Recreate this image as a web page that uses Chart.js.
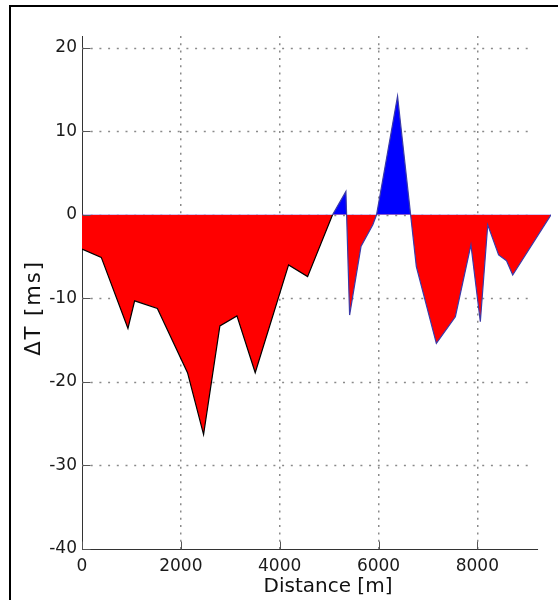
<!DOCTYPE html>
<html lang="en">
<head>
    <meta charset="UTF-8">
    <title>Delta T vs Distance</title>
    <style>
        html, body { margin: 0; padding: 0; background: #fff; overflow: hidden; }
        .wrap { position: relative; width: 558px; height: 600px; }
        .frame { position: absolute; left: 9px; top: 5px; right: -10px; bottom: -10px;
                 border-left: 2px solid #000; border-top: 2px solid #000; pointer-events: none; }
        canvas { display: block; }
    </style>
</head>
<body>
    <div class="wrap">
        <canvas id="dtChart" width="558" height="600"></canvas>
        <div class="frame"></div>
    </div>
    <script src="https://cdn.jsdelivr.net/npm/chart.js"></script>
    <script>
        // profile
        const distance = [0, 390, 930, 1065, 1525, 2135, 2460, 2790, 3135, 3505, 4180, 4565, 5070, 5340,
                          5415, 5645, 5885, 5960, 6385, 6765, 7170, 7555, 7870, 8060, 8210, 8430, 8590, 8715, 9490];
        const deltaT = [-4.1, -5.1, -13.6, -10.3, -11.2, -18.9, -26.3, -13.3, -12.1, -18.9, -6.0, -7.4, 0.0, 2.8,
                        -12.0, -3.8, -1.2, 0.0, 14.2, -6.2, -15.4, -12.2, -3.6, -12.8, -1.2, -4.8, -5.5, -7.2, 0.0];
        const xTicks = [0, 2000, 4000, 6000, 8000];
        const yTicks = [-40, -30, -20, -10, 0, 10, 20];

        const xMax = 9490, yMin = -40, yMax = 21.4;
        const gridEnd = 9133, axisEnd = 9228;

        Chart.defaults.font.family = "'DejaVu Sans', sans-serif";

        const matlabAxes = {
            id: 'matlabAxes',
            beforeDatasetsDraw(chart) {
                const { ctx, scales: { x, y } } = chart;
                ctx.save();
                ctx.strokeStyle = '#8a8a8a';
                ctx.lineWidth = 1.5;
                ctx.setLineDash([2, 6.7]);
                const x0 = x.getPixelForValue(0), x1 = x.getPixelForValue(gridEnd);
                yTicks.forEach(v => {
                    if (v === yMin) return;
                    const py = Math.round(y.getPixelForValue(v)) + 0.5;
                    ctx.beginPath();
                    ctx.moveTo(x0, py);
                    ctx.lineTo(x1, py);
                    ctx.stroke();
                });
                ctx.restore();
            },
            afterDatasetsDraw(chart) {
                const { ctx, scales: { x, y } } = chart;
                const bottom = Math.round(y.getPixelForValue(yMin)) + 0.5;
                const left = Math.round(x.getPixelForValue(0)) + 0.5;
                ctx.save();
                ctx.strokeStyle = '#333';
                ctx.lineWidth = 1;
                // x axis line
                ctx.beginPath();
                ctx.moveTo(left, bottom);
                ctx.lineTo(x.getPixelForValue(axisEnd), bottom);
                ctx.stroke();
                // inward ticks
                ctx.strokeStyle = '#555';
                yTicks.forEach(v => {
                    const py = Math.round(y.getPixelForValue(v)) + 0.5;
                    ctx.beginPath(); ctx.moveTo(left, py); ctx.lineTo(left + 8, py); ctx.stroke();
                });
                xTicks.forEach(v => {
                    const px = Math.round(x.getPixelForValue(v)) + 0.5;
                    ctx.beginPath(); ctx.moveTo(px, bottom); ctx.lineTo(px, bottom - 8); ctx.stroke();
                });
                // axis titles
                ctx.fillStyle = '#111';
                ctx.font = "20px 'DejaVu Sans'";
                ctx.textAlign = 'center';
                ctx.textBaseline = 'middle';
                ctx.fillText('Distance [m]', 328, 587);
                ctx.font = "21px 'DejaVu Sans'";
                ctx.letterSpacing = '2px';
                ctx.translate(35, 308);
                ctx.rotate(-Math.PI / 2);
                ctx.fillText('\u0394T [ms]', 0, 0);
                ctx.restore();
            }
        };

        const ctx = document.getElementById('dtChart').getContext('2d');
        new Chart(ctx, {
            type: 'line',
            data: {
                datasets: [{
                    data: distance.map((d, i) => ({ x: d, y: deltaT[i] })),
                    fill: { target: 'origin', above: '#0000ff', below: '#ff0000' },
                    borderWidth: 1.2,
                    borderColor: '#3a3aa8',
                    segment: {
                        borderColor: c => c.p0.parsed.x < 5070 ? '#000' : '#3a3aa8'
                    },
                    tension: 0,
                    pointRadius: 0
                }]
            },
            options: {
                responsive: false,
                animation: false,
                events: [],
                layout: { padding: { top: 36, right: 7, left: 0, bottom: 0 } },
                plugins: { legend: { display: false }, tooltip: { enabled: false } },
                scales: {
                    x: {
                        type: 'linear',
                        min: 0,
                        max: xMax,
                        afterFit(s) { s.height = 51; },
                        afterBuildTicks(s) { s.ticks = xTicks.map(v => ({ value: v })); },
                        ticks: { color: '#1a1a1a', font: { size: 17 }, padding: 7, maxRotation: 0,
                                 callback: v => String(v) },
                        grid: {
                            drawTicks: false,
                            color: c => c.tick && c.tick.value === 0 ? 'rgba(0,0,0,0)' : '#8a8a8a',
                            lineWidth: 1.5
                        },
                        border: { display: false, dash: [2, 5.3] }
                    },
                    y: {
                        min: yMin,
                        max: yMax,
                        afterFit(s) { s.width = 82; },
                        afterBuildTicks(s) { s.ticks = yTicks.map(v => ({ value: v })); },
                        ticks: { color: '#1a1a1a', font: { size: 17 }, padding: 5, callback: v => String(v) },
                        grid: { display: false, drawTicks: false },
                        border: { display: true, color: '#333', width: 1 }
                    }
                }
            },
            plugins: [matlabAxes]
        });
    </script>
</body>
</html>
